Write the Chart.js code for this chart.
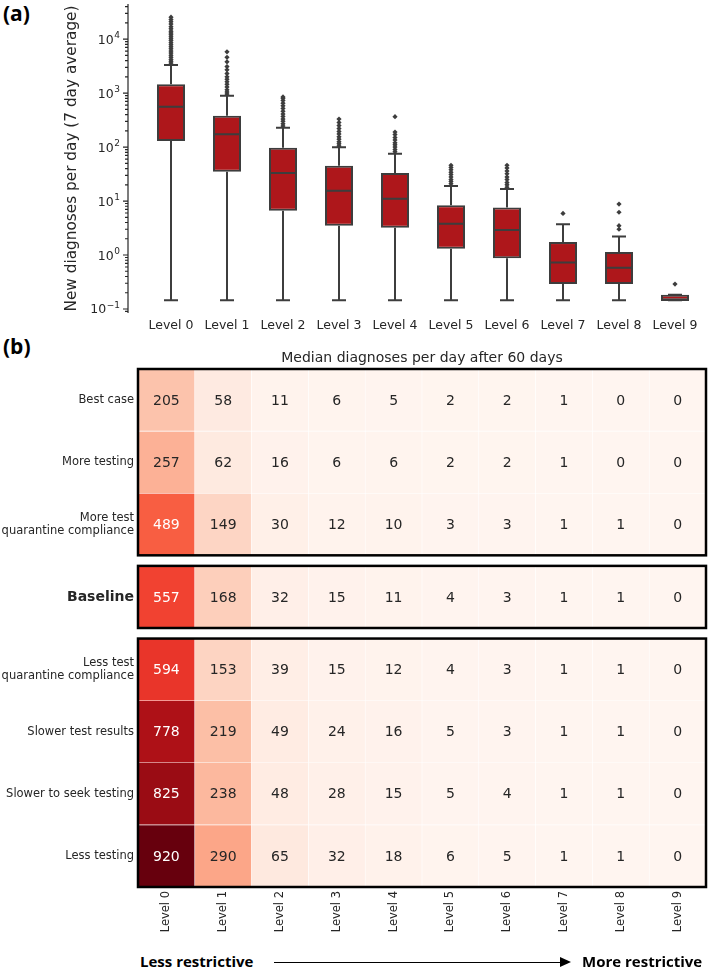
<!DOCTYPE html>
<html>
<head>
<meta charset="utf-8">
<script src="https://cdn.jsdelivr.net/npm/chart.js@4.4.1/dist/chart.umd.min.js"></script>
<style>
  body { margin: 0; background: #fff; width: 708px; height: 969px; position: relative; overflow: hidden; }
  .tag { position: absolute; left: 3px; font: bold 21px 'Open Sans', sans-serif; line-height: 1; color: #000; }
  #boxWrap { position: absolute; left: 0; top: 0; }
  #heatWrap { position: absolute; left: 0; top: 330px; }
  .dir { position: absolute; top: 952px; font: bold 15px 'Open Sans', sans-serif; line-height: 1.2; color: #000; }
  #arrowLine { position: absolute; left: 274px; top: 962px; width: 288px; height: 0; border-top: 1.2px solid #000; }
  #arrowHead { position: absolute; left: 560px; top: 957px; width: 0; height: 0; border-top: 5px solid transparent; border-bottom: 5px solid transparent; border-left: 11px solid #000; }
</style>
</head>
<body>
<div class="tag" style="top:3px">(a)</div>
<div class="tag" style="top:336px">(b)</div>
<div id="boxWrap"><canvas id="boxes" width="708" height="335"></canvas></div>
<div id="heatWrap"><canvas id="heat" width="708" height="615"></canvas></div>
<div class="dir" style="left:140px">Less restrictive</div>
<div id="arrowLine"></div>
<div id="arrowHead"></div>
<div class="dir" style="left:582px">More restrictive</div>
<script>
const levels = ['Level 0', 'Level 1', 'Level 2', 'Level 3', 'Level 4', 'Level 5', 'Level 6', 'Level 7', 'Level 8', 'Level 9'];

// panel (a): box plot stats
const whiskerLow = [0.145, 0.145, 0.145, 0.145, 0.145, 0.145, 0.145, 0.145, 0.145, 0.145];
const q1 = [130, 35, 6.6, 3.5, 3.2, 1.3, 0.87, 0.29, 0.29, 0.145];
const median = [560, 172, 33, 15.5, 11, 3.8, 2.9, 0.73, 0.58, 0.147];
const q3 = [1450, 380, 97, 45, 33, 8.4, 7.6, 1.74, 1.14, 0.184];
const whiskerHigh = [3300, 890, 228, 99, 75, 19, 16.7, 3.7, 2.2, 0.184];
const outliers = [
  [3600, 3900, 4200, 4600, 5000, 5500, 6000, 6600, 7200, 7900, 8600, 9400, 10200, 11000, 12000, 13000, 14000, 15500, 17000, 19000, 21000, 23000, 25500],
  [960, 1050, 1150, 1300, 1450, 1620, 1800, 2000, 2300, 2700, 3100, 3800, 4600, 5800],
  [245, 270, 300, 330, 370, 410, 460, 520, 580, 650, 730, 800, 850],
  [105, 115, 125, 140, 155, 175, 195, 220, 250, 285, 330],
  [82, 90, 100, 110, 120, 135, 150, 170, 190, 365],
  [21, 23, 25, 28, 31, 34, 38, 42, 46],
  [18, 20, 22, 25, 28, 32, 36, 41, 46],
  [5.9],
  [3.0, 3.5, 6.2, 8.8],
  [0.29]
];
const yTickValues = [0.1, 1, 10, 100, 1000, 10000];
const yTickExponents = ['−1', '0', '1', '2', '3', '4'];

// panel (b): heatmap
const scenarios = ['Best case', 'More testing', ['More test', 'quarantine compliance'], 'Baseline',
  ['Less test', 'quarantine compliance'], 'Slower test results', 'Slower to seek testing', 'Less testing'];
const groupSizes = [3, 1, 4];
const medians60 = [
  [205, 58, 11, 6, 5, 2, 2, 1, 0, 0],
  [257, 62, 16, 6, 6, 2, 2, 1, 0, 0],
  [489, 149, 30, 12, 10, 3, 3, 1, 1, 0],
  [557, 168, 32, 15, 11, 4, 3, 1, 1, 0],
  [594, 153, 39, 15, 12, 4, 3, 1, 1, 0],
  [778, 219, 49, 24, 16, 5, 3, 1, 1, 0],
  [825, 238, 48, 28, 15, 5, 4, 1, 1, 0],
  [920, 290, 65, 32, 18, 6, 5, 1, 1, 0]
];

const FONT = 'DejaVu Sans';
const INK = '#262626';
const LINE = '#3d3d3d';
const BOX_FILL = '#ae171b';
const REDS = ['#fff5f0', '#fee0d2', '#fcbba1', '#fc9272', '#fb6a4a', '#ef3b2c', '#cb181d', '#a50f15', '#67000d'];

const hex = h => [1, 3, 5].map(i => parseInt(h.slice(i, i + 2), 16));
function reds(t) {
  t = Math.max(0, Math.min(1, t)) * (REDS.length - 1);
  const i = Math.min(REDS.length - 2, Math.floor(t)), f = t - i;
  const a = hex(REDS[i]), b = hex(REDS[i + 1]);
  return a.map((c, k) => Math.round(c + (b[k] - c) * f));
}
function lum(rgb) {
  const lin = rgb.map(c => { c /= 255; return c <= 0.03928 ? c / 12.92 : Math.pow((c + 0.055) / 1.055, 2.4); });
  return 0.2126 * lin[0] + 0.7152 * lin[1] + 0.0722 * lin[2];
}

// ---------- panel (a) ----------
const boxPlugin = {
  id: 'boxParts',
  afterDatasetsDraw(chart) {
    const { ctx, scales: { y } } = chart;
    const meta = chart.getDatasetMeta(0);
    ctx.save();
    ctx.strokeStyle = LINE;
    ctx.lineWidth = 2;
    ctx.beginPath();
    meta.data.forEach((bar, i) => {
      const cx = bar.x, half = bar.width / 2;
      const top = y.getPixelForValue(q3[i]), bot = y.getPixelForValue(q1[i]);
      const hi = y.getPixelForValue(whiskerHigh[i]), lo = y.getPixelForValue(whiskerLow[i]);
      const med = y.getPixelForValue(median[i]);
      ctx.moveTo(cx, top); ctx.lineTo(cx, hi);
      ctx.moveTo(cx, bot); ctx.lineTo(cx, lo);
      ctx.moveTo(cx - half / 2, hi); ctx.lineTo(cx + half / 2, hi);
      ctx.moveTo(cx - half / 2, lo); ctx.lineTo(cx + half / 2, lo);
      ctx.moveTo(cx - half, med); ctx.lineTo(cx + half, med);
    });
    ctx.stroke();
    ctx.restore();
  },
  afterDraw(chart) {
    // offset y spine with major + minor log ticks, and 10^n labels
    const { ctx, chartArea, scales: { y } } = chart;
    const ax = chartArea.left - 15;
    ctx.save();
    ctx.strokeStyle = INK;
    ctx.lineWidth = 1.2;
    ctx.beginPath();
    ctx.moveTo(ax, chartArea.top); ctx.lineTo(ax, chartArea.bottom);
    for (let e = -2; e <= 5; e++) {
      for (let m = 1; m < 10; m++) {
        const v = m * Math.pow(10, e);
        if (v < y.min || v > y.max) continue;
        const py = y.getPixelForValue(v);
        ctx.moveTo(ax - (m === 1 ? 5 : 3), py); ctx.lineTo(ax, py);
      }
    }
    ctx.stroke();

    ctx.fillStyle = INK;
    ctx.textBaseline = 'alphabetic';
    const right = ax - 8;
    yTickValues.forEach((v, i) => {
      const py = y.getPixelForValue(v);
      ctx.font = '9px "' + FONT + '"';
      const sw = ctx.measureText(yTickExponents[i]).width;
      ctx.textAlign = 'left';
      ctx.fillText(yTickExponents[i], right - sw, py - 1);
      ctx.font = '12.5px "' + FONT + '"';
      ctx.textAlign = 'right';
      ctx.fillText('10', right - sw - 0.5, py + 4.5);
    });
    ctx.restore();
  }
};

new Chart(document.getElementById('boxes'), {
  type: 'bar',
  data: {
    labels: levels,
    datasets: [
      {
        type: 'bar',
        data: q1.map((v, i) => [v, q3[i]]),
        backgroundColor: BOX_FILL,
        borderColor: LINE,
        borderWidth: 2,
        borderSkipped: false,
        barPercentage: 0.5,
        categoryPercentage: 1
      },
      {
        type: 'scatter',
        data: outliers.flatMap((arr, i) => arr.map(v => ({ x: levels[i], y: v }))),
        pointStyle: 'rectRot',
        pointRadius: 2.6,
        backgroundColor: LINE,
        borderWidth: 0
      }
    ]
  },
  options: {
    responsive: false,
    animation: false,
    layout: { padding: { top: 3, right: 5, left: 0, bottom: 0 } },
    plugins: { legend: { display: false }, tooltip: { enabled: false } },
    scales: {
      x: {
        type: 'category',
        grid: { display: false, drawTicks: false },
        border: { display: false },
        ticks: { color: INK, font: { family: FONT, size: 12.5 }, padding: 5, maxRotation: 0 },
        afterFit: s => { s.height = 22; }
      },
      y: {
        type: 'logarithmic',
        min: 0.0843,
        max: 44700,
        grid: { display: false, drawTicks: false },
        border: { display: false },
        ticks: { display: false },
        title: { display: true, text: 'New diagnoses per day (7 day average)', color: INK, font: { family: FONT, size: 15.3 }, padding: { top: 63, bottom: 0 } },
        afterFit: s => { s.width = 143; }
      }
    }
  },
  plugins: [boxPlugin]
});

// ---------- panel (b) ----------
const GROUP_GAP = 0.17;
const rowStart = [];
{
  let pos = 0, r = 0;
  groupSizes.forEach((n, g) => {
    if (g > 0) pos += GROUP_GAP;
    for (let k = 0; k < n; k++) rowStart[r++] = pos++;
  });
}
const yMax = rowStart[rowStart.length - 1] + 1;
const vmax = Math.max(...medians60.flat());

const heatPlugin = {
  id: 'heatParts',
  afterDatasetsDraw(chart) {
    const { ctx, chartArea, scales: { y } } = chart;
    ctx.save();
    ctx.textAlign = 'center';
    ctx.textBaseline = 'middle';
    ctx.font = '14px "' + FONT + '"';
    chart.data.datasets.forEach((ds, r) => {
      chart.getDatasetMeta(r).data.forEach((bar, c) => {
        const val = medians60[r][c];
        const p = bar.getCenterPoint();
        ctx.fillStyle = lum(reds(val / vmax)) > 0.408 ? INK : '#ffffff';
        ctx.fillText(String(val), p.x, p.y + 1);
      });
    });
    // group frames
    ctx.strokeStyle = '#000';
    ctx.lineWidth = 2.5;
    let r = 0;
    groupSizes.forEach(n => {
      const top = y.getPixelForValue(rowStart[r]);
      const bot = y.getPixelForValue(rowStart[r + n - 1] + 1);
      ctx.strokeRect(chartArea.left, top, chartArea.right - chartArea.left, bot - top);
      r += n;
    });
    // title
    ctx.fillStyle = INK;
    ctx.font = '14px "' + FONT + '"';
    ctx.fillText('Median diagnoses per day after 60 days', (chartArea.left + chartArea.right) / 2, 28);
    ctx.restore();
  }
};

new Chart(document.getElementById('heat'), {
  type: 'bar',
  data: {
    labels: levels,
    datasets: medians60.map((row, r) => ({
      data: row.map(() => [rowStart[r], rowStart[r] + 1]),
      backgroundColor: row.map(v => 'rgb(' + reds(v / vmax).join(',') + ')'),
      borderColor: 'rgba(255,255,255,0.8)',
      borderWidth: 0.6,
      borderSkipped: false,
      grouped: false,
      barPercentage: 1,
      categoryPercentage: 1
    }))
  },
  options: {
    responsive: false,
    animation: false,
    layout: { padding: { top: 39, right: 2, left: 0, bottom: 0 } },
    plugins: { legend: { display: false }, tooltip: { enabled: false } },
    scales: {
      x: {
        grid: { display: false, drawTicks: false },
        border: { display: false },
        ticks: { color: INK, font: { family: FONT, size: 11.5 }, padding: 4, minRotation: 90, maxRotation: 90, autoSkip: false },
        afterFit: s => { s.height = 58; }
      },
      y: {
        type: 'linear',
        reverse: true,
        min: 0,
        max: yMax,
        grid: { display: false, drawTicks: false },
        border: { display: false },
        afterBuildTicks: s => { s.ticks = rowStart.map(v => ({ value: v + 0.5 })); },
        ticks: {
          color: INK,
          padding: 4,
          font: ctx => scenarios[ctx.index] === 'Baseline'
            ? { family: FONT, size: 14, weight: 'bold', lineHeight: 1.15 }
            : { family: FONT, size: 11.5, lineHeight: 1.15 },
          callback: (v, i) => scenarios[i]
        },
        afterFit: s => { s.width = 138; }
      }
    }
  },
  plugins: [heatPlugin]
});
</script>
</body>
</html>
